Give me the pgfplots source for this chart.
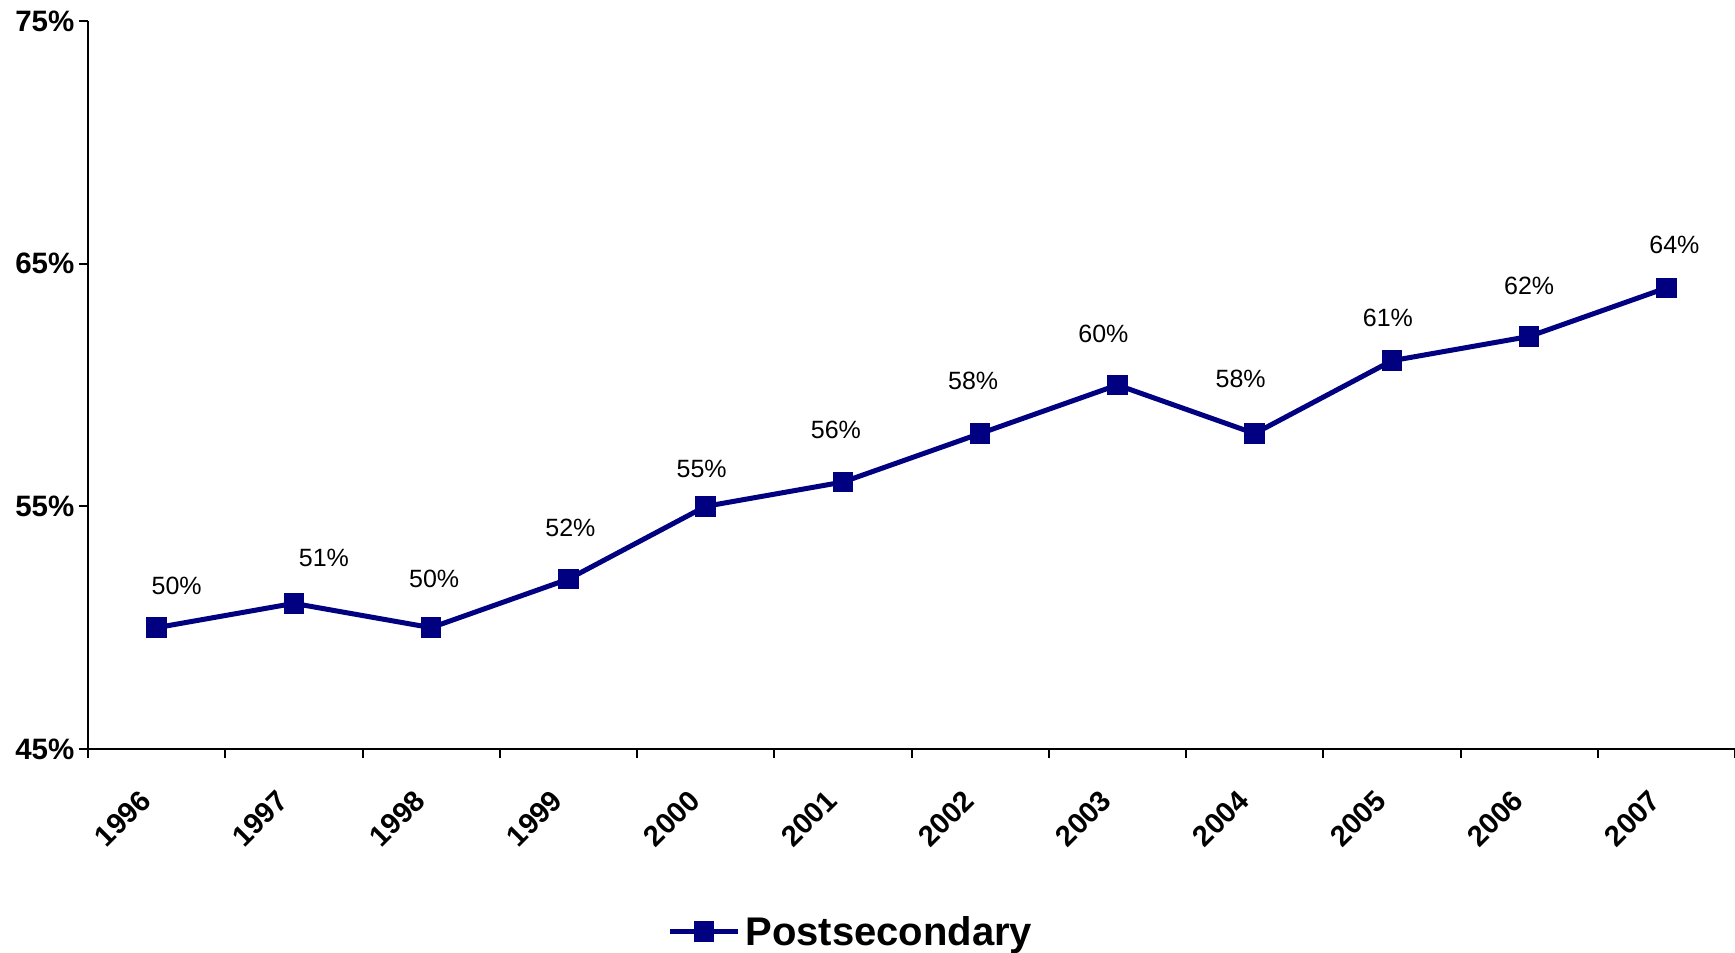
\documentclass[border=0pt]{standalone}
\usepackage{fontspec}
\setmainfont{Liberation Sans}
\usepackage{pgfplots}
\usepackage{pgfplotstable}
\pgfplotsset{compat=1.18}
\definecolor{navy}{RGB}{0,0,128}
\pgfplotstableread{
x y dx dy
0 50 20 42
1 51 30 45
2 50 3 49
3 52 2 51
4 55 -4 37
5 56 -7 52
6 58 -7 53
7 60 -14 51
8 58 -14 55
9 61 -4 43
10 62 0 51
11 64 8 43
}\postsec
\begin{document}
\begin{tikzpicture}
\begin{axis}[
  scale only axis, width=1647pt, height=728pt,
  xmin=-0.5, xmax=11.5, ymin=45, ymax=75,
  axis x line*=bottom, axis y line*=left,
  axis line style={line width=2pt, black},
  tick align=outside,
  tick style={line width=2pt, black},
  major tick length=8.5pt,
  minor tick length=8.5pt,
  xtick={0,1,2,3,4,5,6,7,8,9,10,11},
  xticklabels={1996,1997,1998,1999,2000,2001,2002,2003,2004,2005,2006,2007},
  major x tick style={draw=none},
  minor xtick={-0.5,0.5,...,11.5},
  ytick={45,55,65,75},
  yticklabels={45\%,55\%,65\%,75\%},
  xticklabel style={font=\fontsize{29}{34}\selectfont\bfseries, yshift=-38pt, xshift=-11pt, rotate=45, anchor=east, inner sep=0pt},
  yticklabel style={font=\fontsize{29.5}{35}\selectfont\bfseries, anchor=east, inner sep=0pt, xshift=-5pt},
  clip=false,
  legend style={at={(0.464,-0.251)}, anchor=center, draw=none, fill=none,
    font=\fontsize{40}{46}\selectfont\bfseries, inner sep=0pt,
    nodes={inner sep=5pt}},
  legend image code/.code={\draw[mark repeat=2,mark phase=2] plot coordinates {(0pt,0pt) (34pt,0pt) (68pt,0pt)};},
]
\addplot[navy, line width=5pt, mark=square*, mark size=9.8pt, mark options={solid, fill=navy, line width=0pt},
  point meta=y,
  visualization depends on={\thisrow{dx} \as \dx},
  visualization depends on={\thisrow{dy} \as \dy},
  nodes near coords={\pgfmathprintnumber[assume math mode=true]{\pgfplotspointmeta}\%},
  every node near coord/.append style={black, anchor=center, font=\fontsize{25}{30}\selectfont, xshift=\dx pt, yshift=\dy pt},
] table[x=x, y=y] {\postsec};
\addlegendentry{Postsecondary}
\end{axis}
\pgfresetboundingbox
\path (-88pt,-204pt) rectangle (1647pt,749pt);
\end{tikzpicture}
\end{document}
